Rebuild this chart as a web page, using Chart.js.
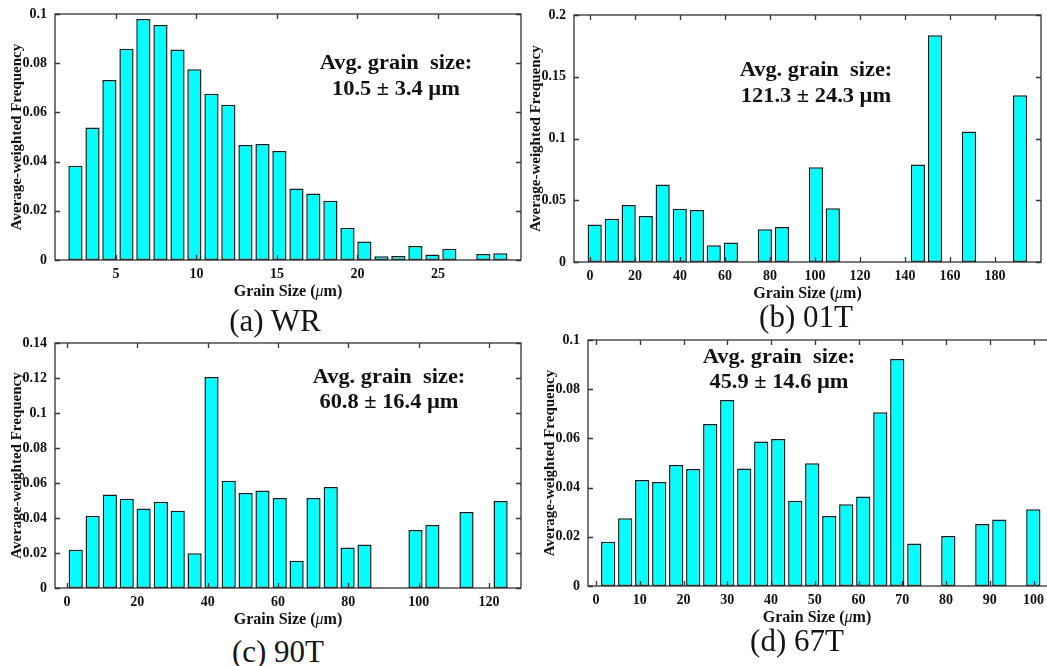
<!DOCTYPE html>
<html>
<head>
<meta charset="utf-8">
<script src="https://cdn.jsdelivr.net/npm/chart.js@4.4.1/dist/chart.umd.min.js"></script>
<style>
  html, body { margin: 0; padding: 0; background: #fff; }
  body { width: 1047px; height: 666px; position: relative; overflow: hidden; }
  canvas { position: absolute; }
  .cap {
    position: absolute; white-space: nowrap; line-height: 1;
    font-family: "Liberation Serif", "Times New Roman", serif;
    font-size: 31px; color: #151515; transform: translate(-50%, -50%);
  }
</style>
</head>
<body>
<script>
// ---- (a) WR : bin centres (µm) and average-weighted frequency ----
const wrSize = [2.48, 3.54, 4.59, 5.65, 6.70, 7.76, 8.82, 9.87, 10.93, 11.98, 13.04, 14.10, 15.15,
                16.21, 17.26, 18.32, 19.38, 20.43, 21.49, 22.54, 23.60, 24.66, 25.71, 27.82, 28.88];
const wrFreq = [0.0383, 0.0539, 0.0732, 0.0859, 0.0980, 0.0955, 0.0856, 0.0775, 0.0676, 0.0631, 0.0467, 0.0472, 0.0443,
                0.0291, 0.0270, 0.0241, 0.0131, 0.0075, 0.0015, 0.0016, 0.0057, 0.0022, 0.0046, 0.0024, 0.0027];
const wrXTicks = [5, 10, 15, 20, 25];
const wrYTicks = [0, 0.02, 0.04, 0.06, 0.08, 0.1];

// ---- (b) 01T ----
const t01Size = [2.1, 9.7, 17.2, 24.8, 32.3, 39.9, 47.5, 55.0, 62.6, 77.7, 85.3, 100.4, 107.9, 145.7, 153.3, 168.4, 191.1];
const t01Freq = [0.0303, 0.0351, 0.0462, 0.0373, 0.0627, 0.0432, 0.0422, 0.0135, 0.0157, 0.0265, 0.0284, 0.0767, 0.0436,
                 0.0789, 0.1837, 0.1057, 0.1350];
const t01XTicks = [0, 20, 40, 60, 80, 100, 120, 140, 160, 180];
const t01YTicks = [0, 0.05, 0.1, 0.15, 0.2];

// ---- (c) 90T ----
const t90Size = [2.5, 7.3, 12.2, 17.0, 21.8, 26.7, 31.5, 36.3, 41.1, 46.0, 50.8, 55.6, 60.5, 65.3, 70.1, 75.0, 79.8, 84.6,
                 99.1, 103.9, 113.6, 123.3];
const t90Freq = [0.0219, 0.0413, 0.0535, 0.0510, 0.0455, 0.0493, 0.0442, 0.0198, 0.1206, 0.0613, 0.0543, 0.0557, 0.0514,
                 0.0156, 0.0514, 0.0577, 0.0232, 0.0248, 0.0331, 0.0360, 0.0434, 0.0497];
const t90XTicks = [0, 20, 40, 60, 80, 100, 120];
const t90YTicks = [0, 0.02, 0.04, 0.06, 0.08, 0.1, 0.12, 0.14];

// ---- (d) 67T ----
const t67Size = [2.78, 6.67, 10.55, 14.44, 18.32, 22.21, 26.10, 29.98, 33.87, 37.75, 41.64, 45.53, 49.41, 53.30, 57.18,
                 61.07, 64.96, 68.84, 72.73, 80.50, 88.27, 92.16, 99.93];
const t67Freq = [0.0180, 0.0275, 0.0431, 0.0423, 0.0492, 0.0476, 0.0659, 0.0756, 0.0478, 0.0587, 0.0598, 0.0347, 0.0499,
                 0.0285, 0.0332, 0.0364, 0.0706, 0.0923, 0.0173, 0.0203, 0.0252, 0.0270, 0.0312];
const t67XTicks = [0, 10, 20, 30, 40, 50, 60, 70, 80, 90, 100];
const t67YTicks = [0, 0.02, 0.04, 0.06, 0.08, 0.1];

const avgLabel = 'Avg. grain  size:';
const xTitleParts = [['Grain Size (', 'bold'], ['\u03bc', 'italic'], ['m)', 'bold']];
const yTitle = 'Average-weighted Frequency';

// page layout of each panel: plot box (l,t,r,b), note centre, caption centre
const panels = [
  { size: wrSize, freq: wrFreq, xTicks: wrXTicks, yTicks: wrYTicks, xMin: 1.21, xMax: 30.16, yMax: 0.1,
    avg: '10.5 \u00b1 3.4 \u00b5m', caption: '(a) WR',
    box: { l: 55, t: 14, r: 521, b: 260 }, note: { x: 396, y1: 64, y2: 90 }, cap: { x: 275, y: 320 } },
  { size: t01Size, freq: t01Freq, xTicks: t01XTicks, yTicks: t01YTicks, xMin: -7.1, xMax: 200.4, yMax: 0.2,
    avg: '121.3 \u00b1 24.3 \u00b5m', caption: '(b) 01T',
    box: { l: 574, t: 15, r: 1041, b: 262 }, note: { x: 816, y1: 71, y2: 97 }, cap: { x: 806, y: 316 } },
  { size: t90Size, freq: t90Freq, xTicks: t90XTicks, yTicks: t90YTicks, xMin: -3.4, xMax: 129.1, yMax: 0.14,
    avg: '60.8 \u00b1 16.4 \u00b5m', caption: '(c) 90T',
    box: { l: 55, t: 343, r: 521, b: 588 }, note: { x: 389, y1: 378, y2: 403 }, cap: { x: 278, y: 651 } },
  { size: t67Size, freq: t67Freq, xTicks: t67XTicks, yTicks: t67YTicks, xMin: -1.83, xMax: 104.2, yMax: 0.1,
    avg: '45.9 \u00b1 14.6 \u00b5m', caption: '(d) 67T',
    box: { l: 588, t: 340, r: 1052, b: 586 }, note: { x: 779, y1: 358, y2: 383 }, cap: { x: 797, y: 640 } }
];

const SERIF = '"Liberation Serif", "Times New Roman", serif';
Chart.defaults.font.family = SERIF;
Chart.defaults.color = '#111';

const Y_AXIS_W = 55, X_AXIS_H = 45, PAD_TOP = 15, PAD_RIGHT = 6;

// box frame, inward tick marks, x-axis title and the average-size note
const framePlugin = {
  id: 'frame',
  afterDatasetsDraw(chart, args, o) {
    const { ctx, chartArea: a, scales: { x, y } } = chart;
    ctx.save();
    ctx.strokeStyle = '#333';
    ctx.lineWidth = 1.3;
    ctx.strokeRect(a.left, a.top, a.right - a.left, a.bottom - a.top);
    const L = 5;
    ctx.beginPath();
    o.xTicks.forEach(v => {
      const px = Math.round(x.getPixelForValue(v)) + 0.5;
      ctx.moveTo(px, a.bottom); ctx.lineTo(px, a.bottom - L);
      ctx.moveTo(px, a.top); ctx.lineTo(px, a.top + L);
    });
    o.yTicks.forEach(v => {
      const py = Math.round(y.getPixelForValue(v)) + 0.5;
      ctx.moveTo(a.left, py); ctx.lineTo(a.left + L, py);
      ctx.moveTo(a.right, py); ctx.lineTo(a.right - L, py);
    });
    ctx.stroke();

    // x-axis title with italic mu
    ctx.fillStyle = '#111';
    ctx.textBaseline = 'middle';
    ctx.textAlign = 'left';
    const fonts = { bold: 'bold 16px ' + SERIF, italic: 'italic 16px ' + SERIF };
    let total = 0;
    xTitleParts.forEach(([s, f]) => { ctx.font = fonts[f]; total += ctx.measureText(s).width; });
    let cx = (o.titleCenter !== undefined ? o.titleCenter : (a.left + a.right) / 2) - total / 2;
    const ty = a.bottom + 32;
    xTitleParts.forEach(([s, f]) => { ctx.font = fonts[f]; ctx.fillText(s, cx, ty); cx += ctx.measureText(s).width; });

    // average grain size note
    ctx.textAlign = 'center';
    ctx.font = 'bold 20px ' + SERIF;
    [[avgLabel, o.note.y1], [o.avg, o.note.y2]].forEach(([s, yy]) => {
      ctx.save();
      ctx.translate(o.note.x, yy);
      ctx.scale(1.12, 1);
      ctx.fillText(s, 0, 0);
      ctx.restore();
    });
    ctx.restore();
  }
};

panels.forEach((p) => {
  const left = p.box.l - Y_AXIS_W;
  const top = p.box.t - PAD_TOP;
  const width = p.box.r + PAD_RIGHT - left;
  const height = p.box.b + X_AXIS_H - top;
  // the x title sits under the visible part of the plot box
  const visibleRight = Math.min(p.box.r, 1046);
  const titleCenter = (p.box.l + visibleRight) / 2 - left;

  const cv = document.createElement('canvas');
  cv.width = width; cv.height = height;
  cv.style.left = left + 'px'; cv.style.top = top + 'px';
  cv.style.width = width + 'px'; cv.style.height = height + 'px';
  document.body.appendChild(cv);

  const cap = document.createElement('div');
  cap.className = 'cap';
  cap.textContent = p.caption;
  cap.style.left = p.cap.x + 'px'; cap.style.top = p.cap.y + 'px';
  document.body.appendChild(cap);

  new Chart(cv, {
    type: 'bar',
    data: {
      datasets: [{
        data: p.size.map((s, i) => ({ x: s, y: p.freq[i] })),
        backgroundColor: '#00ffff',
        borderColor: '#102020',
        borderWidth: 1.5,
        borderSkipped: false,
        barPercentage: 0.84,
        categoryPercentage: 1.0
      }]
    },
    plugins: [framePlugin],
    options: {
      responsive: false,
      animation: false,
      events: [],
      devicePixelRatio: 1,
      layout: { padding: { left: 0, top: PAD_TOP, right: PAD_RIGHT, bottom: 0 } },
      plugins: {
        legend: { display: false },
        tooltip: { enabled: false },
        frame: {
          xTicks: p.xTicks, yTicks: p.yTicks, avg: p.avg, titleCenter,
          note: { x: p.note.x - left, y1: p.note.y1 - top, y2: p.note.y2 - top }
        }
      },
      scales: {
        x: {
          type: 'linear', offset: false, min: p.xMin, max: p.xMax,
          grid: { display: false, drawTicks: false, offset: false },
          border: { display: false },
          afterBuildTicks: (ax) => { ax.ticks = p.xTicks.map(v => ({ value: v })); },
          afterFit: (ax) => { ax.height = X_AXIS_H; ax.paddingLeft = 0; ax.paddingRight = 0; },
          ticks: {
            autoSkip: false, maxRotation: 0, padding: 5.5,
            font: { size: 14, weight: 'bold' }, color: '#111',
            callback: (v) => String(v)
          }
        },
        y: {
          min: 0, max: p.yMax,
          grid: { display: false, drawTicks: false },
          border: { display: false },
          afterBuildTicks: (ax) => { ax.ticks = p.yTicks.map(v => ({ value: v })); },
          afterFit: (ax) => { ax.width = Y_AXIS_W; ax.paddingTop = 0; ax.paddingBottom = 0; },
          ticks: {
            autoSkip: false, padding: 8,
            font: { size: 14, weight: 'bold' }, color: '#111',
            callback: (v) => String(v)
          },
          title: {
            display: true, text: yTitle, color: '#111',
            font: { size: 15, weight: 'bold' }, padding: { top: 8, bottom: 0 }
          }
        }
      }
    }
  });
});
</script>
</body>
</html>
